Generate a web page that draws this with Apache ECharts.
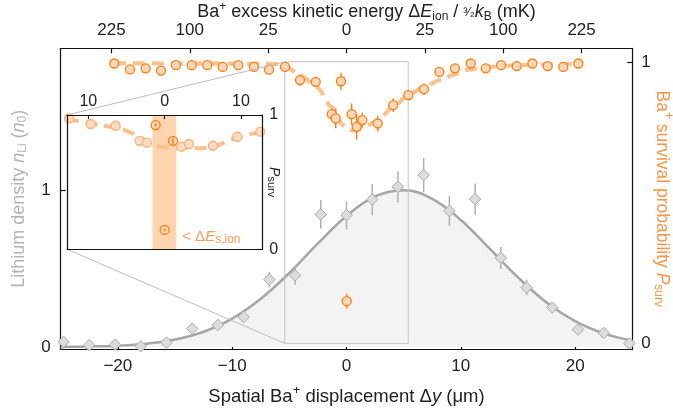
<!DOCTYPE html>
<html><head><meta charset="utf-8">
<script src="https://cdn.jsdelivr.net/npm/echarts@6/dist/echarts.min.js"></script>
<style>html,body{margin:0;padding:0;background:#fff}#c{width:673px;height:415px}</style>
</head><body><div id="c"></div>
<script>
// ---------- data ----------
const liX = [-24.75,-22.5,-20.25,-18,-15.75,-13.5,-11.25,-9,-6.75,-4.5,-2.25,0,2.25,4.5,6.75,9,11.25,13.5,15.75,18,20.25,22.5,24.75];
const liN = [0.032,0.011,0.015,0.004,0.028,0.117,0.14,0.191,0.43,0.456,0.845,0.84,0.94,1.021,1.096,0.868,0.943,0.568,0.379,0.251,0.111,0.089,0.022];
const liErr = [0.01,0.005,0.005,0.005,0.01,0.015,0.02,0.03,0.05,0.06,0.09,0.09,0.1,0.1,0.11,0.095,0.1,0.07,0.05,0.03,0.02,0.015,0.01];

const fitX = [-25,-22.5,-20,-17.5,-15,-12.5,-10,-7.5,-5,-2.5,0,2.5,5,7.5,10,12.5,15,17.5,20,22.5,25];
const fitN = [0.001,0.003,0.008,0.021,0.047,0.097,0.181,0.307,0.472,0.66,0.835,0.96,1.0,0.945,0.81,0.629,0.444,0.284,0.165,0.087,0.041];

const survX = [-20.31,-18.94,-17.57,-16.23,-14.92,-13.54,-12.18,-10.83,-9.47,-8.09,-6.78,-5.38,-4.07,-2.69,-1.29,-0.94,-0.48,0.45,0.89,1.38,2.73,4.09,5.41,6.78,8.12,9.49,10.87,12.18,13.52,14.89,16.26,17.6,18.96,20.28,0.02];
const survP = [0.994,0.973,0.977,0.969,0.988,0.988,0.988,0.982,0.988,0.982,0.972,0.982,0.935,0.929,0.814,0.799,0.931,0.814,0.769,0.793,0.781,0.846,0.882,0.903,0.964,0.977,0.994,0.977,0.988,0.985,0.994,0.985,0.982,0.994,0.15];
const survErr = [0,0,0,0,0,0,0,0,0,0,0.005,0.008,0.02,0.018,0.02,0.035,0.03,0.038,0.045,0.027,0.027,0.024,0.018,0.02,0.01,0.008,0,0,0,0,0,0,0,0,0.026];

const survFitX = [-20.34,-12,-7,-5.8,-5.38,-4.07,-2.61,-1.29,-0.86,-0.3,0.5,1.18,2.64,4.09,5.41,6.72,8.18,9.49,10.8,12.27,14.89,18.97,20.25];
const survFitP = [0.995,0.994,0.993,0.992,0.985,0.953,0.911,0.84,0.805,0.775,0.756,0.763,0.787,0.84,0.882,0.909,0.935,0.956,0.973,0.982,0.988,0.992,0.994];

const insetX = [-12.54,-9.7,-6.42,-3.28,-2.32,2.19,3.18,6.33,9.53,12.54];
const insetP = [0.975,0.933,0.92,0.808,0.794,0.764,0.784,0.771,0.838,0.876];
const insetErr = [0.008,0.01,0.01,0.015,0.025,0.03,0.02,0.015,0.012,0.01];
const insetOpenX = [-1.18,1.09,0];
const insetOpenP = [0.925,0.808,0.144];
const insetOpenErr = [0.012,0.025,0.01];
const insetFitX = [-12.8,-8.5,-5.5,-3.05,-1.75,0.3,2.6,5.5,7.6,9.8,12.8];
const insetFitP = [0.97,0.925,0.894,0.827,0.777,0.758,0.752,0.752,0.789,0.838,0.876];

const bottomTicks = [-20,-10,0,10,20];
const topTickEnergies = [-225,-100,-25,0,25,100,225]; // sign = side of zero
const insetTicks = [-10,0,10];
const leftTicks = [0,1];
const rightTicks = [0,1];
const insetYTicks = [0,1];
const thresholdBand = [-1.6,1.53];
const zoomBox = [-5.4,5.4,0,1];
const insetRange = [-12.8,12.8];

// ---------- chart ----------
const FONT = 'Liberation Sans';
const K = 1.371; // um per sqrt(mK)
const topTickPos = topTickEnergies.map(e => Math.sign(e) * K * Math.sqrt(Math.abs(e)));
const BLACK = '#111';
const OR = '#ff7f0e';
const zip = (a,b) => a.map((v,i) => [v,b[i]]);
const minus = v => (v < 0 ? '\u2212' + (-v) : '' + v);

function axisBase(extra) {
  return Object.assign({
    type: 'value',
    splitLine: {show: false},
    axisLine: {show: true, onZero: false, lineStyle: {color: BLACK, width: 1.2}}
  }, extra);
}
function ticks(vals, len) {
  return {show: true, inside: true, length: len || 5, customValues: vals, lineStyle: {color: BLACK, width: 1.2}};
}
function labels(vals, margin, fmt, size) {
  return {show: true, customValues: vals, margin: margin, fontFamily: FONT, fontSize: size || 17, color: '#222', formatter: fmt};
}
function errSeries(xs, ys, es, xi, yi, color, z) {
  return {
    type: 'custom', xAxisIndex: xi, yAxisIndex: yi, z: z, silent: true,
    encode: {x: 0, y: [1, 2]},
    data: xs.map((x, i) => [x, ys[i] - es[i], ys[i] + es[i]]),
    renderItem: function (params, api) {
      if (api.value(2) - api.value(1) <= 0) return null;
      const lo = api.coord([api.value(0), api.value(1)]);
      const hi = api.coord([api.value(0), api.value(2)]);
      return {type: 'line', shape: {x1: lo[0], y1: lo[1], x2: hi[0], y2: hi[1]}, style: {stroke: color, lineWidth: 1.5}};
    }
  };
}
function nameRich(size) {
  const s = Math.round(size * 0.68);
  return {sup: {fontSize: s, padding: [0,0,12,0]}, sub: {fontSize: s, padding: [8,0,0,0]}, i: {fontStyle: 'italic', fontSize: size}};
}

const chart = echarts.init(document.getElementById('c'));
const option = {
  animation: false,
  backgroundColor: '#fff',
  textStyle: {fontFamily: FONT},
  grid: [
    {left: 60.7, right: 40.7, top: 48.3, bottom: 65.7, containLabel: false, outerBoundsMode: 'none'},
    {left: 67, top: 115, width: 195.3, height: 134.3, containLabel: false, outerBoundsMode: 'none', show: true, backgroundColor: '#fff', borderWidth: 0}
  ],
  xAxis: [
    axisBase({gridIndex: 0, min: -25, max: 25, position: 'bottom',
      axisTick: ticks(bottomTicks), axisLabel: labels(bottomTicks, 9, minus),
      name: 'Spatial Ba{sup|+} displacement \u0394{i|y} (\u03bcm)', nameLocation: 'middle', nameGap: 35,
      nameTextStyle: {fontFamily: FONT, fontSize: 18.5, color: '#222', rich: nameRich(18.5)}}),
    axisBase({gridIndex: 0, min: -25, max: 25, position: 'top',
      axisTick: ticks(topTickPos), axisLabel: labels(topTickPos, 9, v => String(Math.round((v / K) * (v / K))))}),
    axisBase({gridIndex: 1, min: insetRange[0], max: insetRange[1], position: 'top', z: 6,
      axisTick: ticks(insetTicks, 4), axisLabel: labels(insetTicks, 5, v => String(Math.abs(v)), 16)}),
    axisBase({gridIndex: 1, min: insetRange[0], max: insetRange[1], position: 'bottom', z: 6,
      axisTick: {show: false}, axisLabel: {show: false}})
  ],
  yAxis: [
    axisBase({gridIndex: 0, min: -0.015, max: 1.905, position: 'left',
      axisTick: ticks(leftTicks), axisLabel: labels(leftTicks, 10, v => String(v)),
      name: 'Lithium density {i|n}{sub|Li} ({i|n}{sub|0})', nameLocation: 'middle', nameGap: 32, nameRotate: 90,
      nameTextStyle: {fontFamily: FONT, fontSize: 18, color: '#b4b4b4', rich: nameRich(18)}}),
    axisBase({gridIndex: 0, min: -0.021, max: 1.048, position: 'right',
      axisTick: ticks(rightTicks), axisLabel: labels(rightTicks, 9, v => String(v))}),
    axisBase({gridIndex: 1, min: 0, max: 1, position: 'right', z: 6,
      axisTick: ticks(insetYTicks, 4), axisLabel: labels(insetYTicks, 7, v => String(v), 16)}),
    axisBase({gridIndex: 1, min: 0, max: 1, position: 'left', z: 6,
      axisTick: {show: false}, axisLabel: {show: false}})
  ],
  series: [
    {type: 'line', xAxisIndex: 0, yAxisIndex: 0, z: 1, data: zip(fitX, fitN), smooth: 0.4, symbol: 'none',
      lineStyle: {color: '#a6a6a6', width: 2.5}, areaStyle: {color: '#f3f3f3', opacity: 1, origin: 'auto'}},
    errSeries(liX, liN, liErr, 0, 0, '#b0b0b0', 2),
    {type: 'scatter', xAxisIndex: 0, yAxisIndex: 0, z: 3, data: zip(liX, liN), symbol: 'diamond', symbolSize: 11.5,
      itemStyle: {color: '#dcdcdc', borderColor: '#aaaaaa', borderWidth: 1, opacity: 1}},
    {type: 'line', xAxisIndex: 0, yAxisIndex: 1, z: 2, data: zip(survFitX, survFitP), smooth: 0.3, smoothMonotone: 'x', symbol: 'none',
      lineStyle: {color: '#ffc08c', width: 4, type: [12, 7]},
      markArea: {silent: true, z: 4, itemStyle: {color: 'rgba(0,0,0,0)', borderColor: '#c4c4c4', borderWidth: 1},
        data: [[{xAxis: zoomBox[0], yAxis: zoomBox[2]}, {xAxis: zoomBox[1], yAxis: zoomBox[3]}]]}},
    errSeries(survX, survP, survErr, 0, 1, OR, 3),
    {type: 'scatter', xAxisIndex: 0, yAxisIndex: 1, z: 4, data: zip(survX, survP), symbol: 'circle', symbolSize: 9,
      itemStyle: {color: '#fdd7b8', borderColor: OR, borderWidth: 1.3, opacity: 1}},
    // inset
    {type: 'line', xAxisIndex: 2, yAxisIndex: 2, z: 3, data: zip(insetFitX, insetFitP), smooth: 0.3, symbol: 'none',
      lineStyle: {color: '#ffc08c', width: 4, type: [12, 7]},
      markArea: {silent: true, z: 2, itemStyle: {color: '#ffd4ae'},
        data: [[{xAxis: thresholdBand[0]}, {xAxis: thresholdBand[1]}]]}},
    errSeries(insetX, insetP, insetErr, 2, 2, '#fcb07a', 4),
    {type: 'scatter', xAxisIndex: 2, yAxisIndex: 2, z: 5, data: zip(insetX, insetP), symbol: 'circle', symbolSize: 9,
      itemStyle: {color: '#fddcc3', borderColor: '#fcb07a', borderWidth: 1.3, opacity: 1}},
    errSeries(insetOpenX, insetOpenP, insetOpenErr, 2, 2, OR, 4),
    {type: 'scatter', xAxisIndex: 2, yAxisIndex: 2, z: 5, data: zip(insetOpenX, insetOpenP), symbol: 'circle', symbolSize: 9,
      itemStyle: {color: 'rgba(255,255,255,0)', borderColor: OR, borderWidth: 1.3, opacity: 1}}
  ]
};
chart.setOption(option);

// overlay: connector lines, titles and annotation, placed via the axes
const pA = chart.convertToPixel({seriesIndex: 6}, [insetRange[0], 1]);
const pB = chart.convertToPixel({seriesIndex: 6}, [insetRange[0], 0]);
const pC = chart.convertToPixel({seriesIndex: 3}, [zoomBox[0], zoomBox[3]]);
const pD = chart.convertToPixel({seriesIndex: 3}, [zoomBox[0], zoomBox[2]]);
const pT = chart.convertToPixel({seriesIndex: 6}, [2.3, 0.094]);
const pInsetName = chart.convertToPixel({seriesIndex: 6}, [insetRange[1], 0.5]);
const pTopL = chart.convertToPixel({seriesIndex: 3}, [-25, 1.048]);
const pBR = chart.convertToPixel({seriesIndex: 3}, [25, -0.021]);
const midY = (pTopL[1] + pBR[1]) / 2;
const centerX = (pTopL[0] + pBR[0]) / 2;
function richFor(color, size) {
  const s = Math.round(size * 0.68);
  return {
    sup: {fontSize: s, padding: [0,0,12,0], fill: color, fontFamily: FONT},
    sub: {fontSize: s, padding: [8,0,0,0], fill: color, fontFamily: FONT},
    i: {fontStyle: 'italic', fill: color, fontFamily: FONT, fontSize: size},
    n: {fill: color, fontFamily: FONT, fontSize: size},
    fr: {fontSize: Math.round(size * 0.72), fill: color, fontFamily: FONT}
  };
}
chart.setOption({
  graphic: [
    {type: 'line', z: 5, silent: true, shape: {x1: pA[0], y1: pA[1], x2: pC[0], y2: pC[1]}, style: {stroke: '#bdbdbd', lineWidth: 1}},
    {type: 'line', z: 5, silent: true, shape: {x1: pB[0], y1: pB[1], x2: pD[0], y2: pD[1]}, style: {stroke: '#bdbdbd', lineWidth: 1}},
    {type: 'text', z: 20, silent: true, x: pT[0], y: pT[1],
      style: {text: '< \u0394{i|E}{sub|s,ion}', fill: '#ff9a4d', fontFamily: FONT, fontSize: 15, verticalAlign: 'middle', align: 'left',
        rich: {i: {fontStyle: 'italic', fontSize: 15, fill: '#ff9a4d'}, sub: {fontSize: 12, padding: [7,0,0,0], fill: '#ff9a4d'}}}},
    {type: 'text', z: 20, silent: true, x: centerX + 20, y: pTopL[1] - 36,
      style: {text: '{n|Ba}{sup|+}{n| excess kinetic energy \u0394}{i|E}{sub|ion}{n| / }{fr|\u00b3\u2044\u2082}{i|k}{sub|B}{n| (mK)}',
        fill: '#222', fontFamily: FONT, fontSize: 18, align: 'center', verticalAlign: 'middle', rich: richFor('#222', 18)}},
    {type: 'text', z: 20, silent: true, x: pBR[0] + 30, y: midY, rotation: -Math.PI / 2,
      style: {text: '{n|Ba}{sup|+}{n| survival probability }{i|P}{sub|surv}',
        fill: '#ff9340', fontFamily: FONT, fontSize: 17.5, align: 'center', verticalAlign: 'middle', rich: richFor('#ff9340', 17.5)}},
    {type: 'text', z: 20, silent: true, x: pInsetName[0] + 12, y: pInsetName[1], rotation: -Math.PI / 2,
      style: {text: '{i|P}{sub|surv}', fill: '#222', fontFamily: FONT, fontSize: 14, align: 'center', verticalAlign: 'middle',
        rich: {i: {fontStyle: 'italic', fontSize: 14, fill: '#222', fontFamily: FONT}, sub: {fontSize: 11, padding: [7,0,0,0], fill: '#222', fontFamily: FONT}}}}
  ]
});
</script></body></html>
